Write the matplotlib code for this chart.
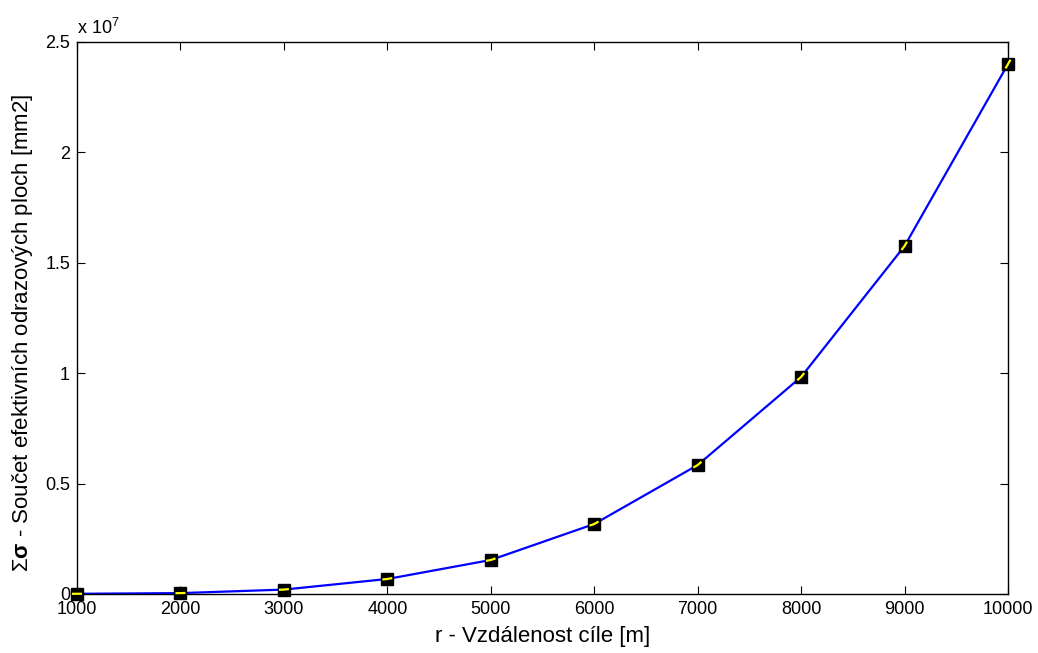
import matplotlib
matplotlib.use("Agg")
import matplotlib.pyplot as plt
import numpy as np
from matplotlib.ticker import FixedLocator, FuncFormatter

plt.rcParams['font.family'] = ['Liberation Sans', 'DejaVu Sans']
plt.rcParams['mathtext.fontset'] = 'custom'
plt.rcParams['mathtext.rm'] = 'Liberation Sans'
plt.rcParams['mathtext.it'] = 'Liberation Sans'
plt.rcParams['mathtext.bf'] = 'Liberation Sans:bold'

# Target distance [m] and summed radar cross-section [mm2] (scaled by 1e7)
distance = [1000, 2000, 3000, 4000, 5000, 6000, 7000, 8000, 9000, 10000]
sigma_sum_e7 = [0.001, 0.004, 0.020, 0.068, 0.154, 0.317, 0.584, 0.983, 1.576, 2.400]
x_ticks = [1000, 2000, 3000, 4000, 5000, 6000, 7000, 8000, 9000, 10000]
y_ticks = [0, 0.5, 1, 1.5, 2, 2.5]

fig = plt.figure(figsize=(10.38, 6.53), dpi=100)
ax = fig.add_axes([77 / 1038, 1 - 594 / 653, (1008 - 77) / 1038, (594 - 42) / 653])

x = np.array(distance, dtype=float)
y = np.array(sigma_sum_e7, dtype=float)

ax.plot(x, y, color='#0000ff', lw=1.6, zorder=2)
ax.plot(x, y, ls='none', marker='s', ms=8.5, mfc='black', mec='black', zorder=3,
        clip_on=False)

ax.set_xlim(1000, 10000)
ax.set_ylim(0, 2.5)

# short yellow strokes following the curve inside each marker
fig.canvas.draw()
pts = ax.transData.transform(np.column_stack([x, y]))
inv = ax.transData.inverted()
half = 5.0
for i, p in enumerate(pts):
    seg = []
    if i > 0:
        d = pts[i - 1] - p
        seg.append(p + d / np.hypot(*d) * half)
    else:
        d = pts[i + 1] - p
        seg.append(p - d / np.hypot(*d) * half)
    seg.append(p)
    if i < len(pts) - 1:
        d = pts[i + 1] - p
        seg.append(p + d / np.hypot(*d) * half)
    else:
        d = pts[i - 1] - p
        seg.append(p - d / np.hypot(*d) * half)
    seg = inv.transform(np.array(seg))
    ax.plot(seg[:, 0], seg[:, 1], color='#ffff00', lw=1.6, zorder=4,
            solid_capstyle='butt', clip_on=False)

ax.xaxis.set_major_locator(FixedLocator(x_ticks))
ax.yaxis.set_major_locator(FixedLocator(y_ticks))
ax.yaxis.set_major_formatter(FuncFormatter(lambda v, _: f"{v:g}"))
ax.xaxis.set_major_formatter(FuncFormatter(lambda v, _: f"{int(v)}"))
ax.tick_params(direction='in', top=True, right=True, length=6, width=0.8,
               labelsize=13, pad=5)
for s in ax.spines.values():
    s.set_linewidth(1.0)

ax.set_xlabel('r - Vzdálenost cíle [m]', fontsize=16, va='center')
ax.xaxis.set_label_coords(0.5, -0.077)
ax.set_ylabel(r'$\Sigma\mathbf{\sigma}$ - Součet efektivních odrazových ploch [mm2]',
              fontsize=16, va='center')
ax.yaxis.set_label_coords(-0.059, 0.473)
ax.text(0.0, 1.008, r'x 10$^{7}$', transform=ax.transAxes, fontsize=13,
        ha='left', va='bottom')

fig.savefig('out.png', dpi=100)
